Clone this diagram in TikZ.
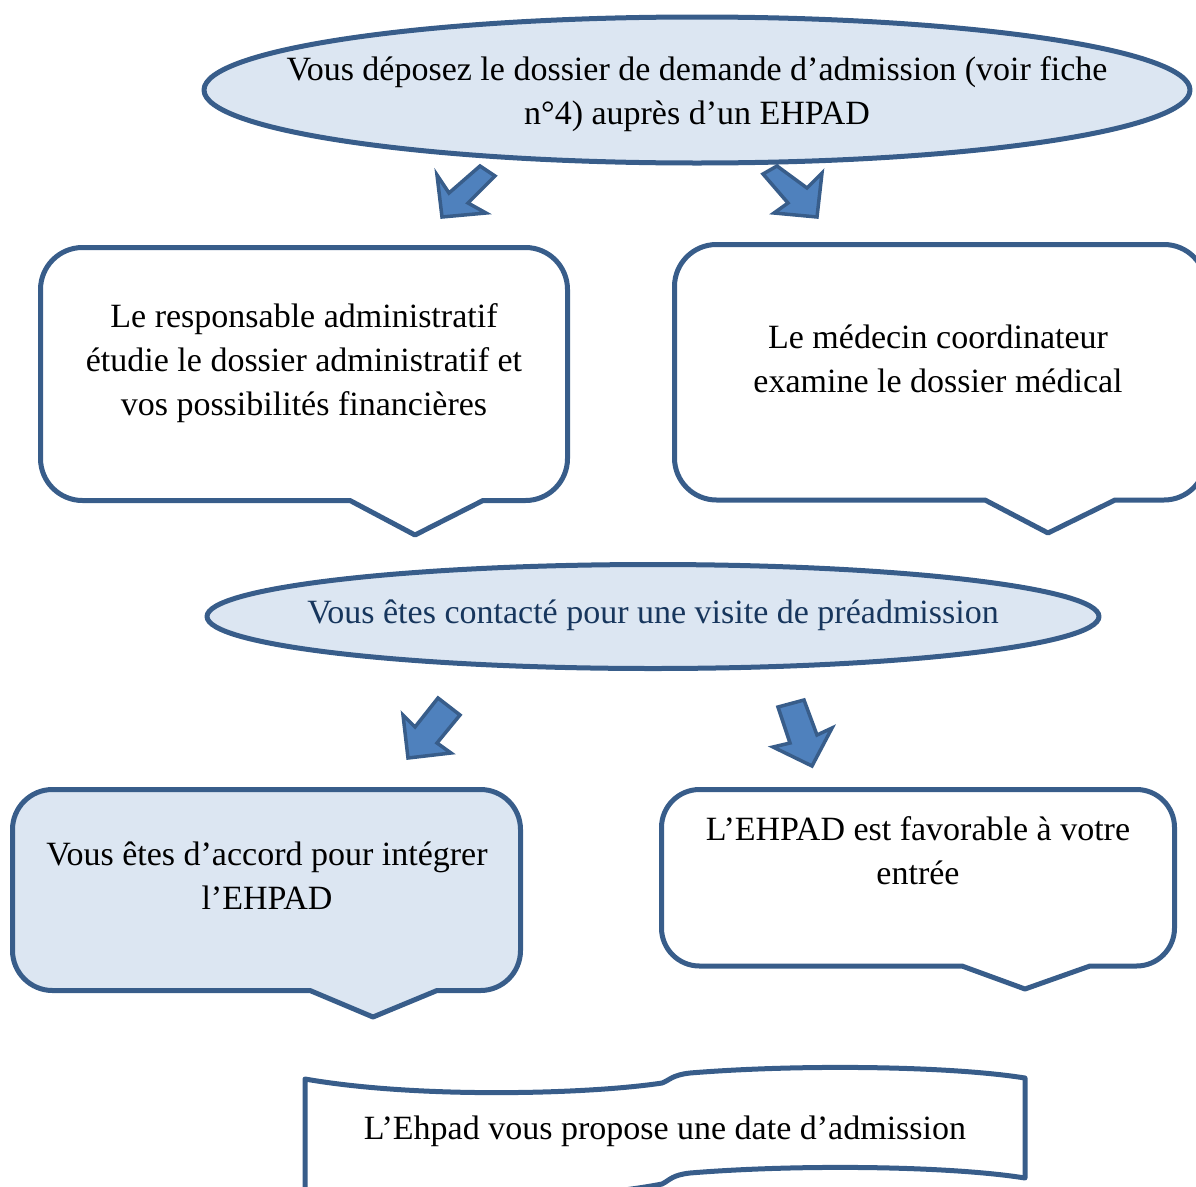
\documentclass[tikz,border=0pt]{standalone}
\usepackage{fontspec}
\setmainfont{Liberation Serif}
% #1 style, #2 x left, #3 x right, #4 y top, #5 y bottom, #6 radius, #7 pointer left x, #8 tip x, #9 tip y, pointer right x given by next arg
\newcommand\mycallout[9]{%
  \draw[#1] ({#2+#6},#4) -- ({#3-#6},#4) arc[start angle=270,end angle=360,radius=#6]
    -- (#3,{#5-#6}) arc[start angle=0,end angle=90,radius=#6]
    -- (\ptright,#5) -- (#8,#9) -- (#7,#5)
    -- ({#2+#6},#5) arc[start angle=90,end angle=180,radius=#6]
    -- (#2,{#4+#6}) arc[start angle=180,end angle=270,radius=#6] -- cycle;}
\begin{document}
\begin{tikzpicture}[x=1pt,y=-1pt,
  shapeline/.style={draw=strokeblue,line width=5pt,line join=round},
  bluefill/.style={shapeline,fill=lightblue},
  whitefill/.style={shapeline,fill=white},
  blockarrow/.style={draw=strokeblue,fill=arrowblue,line width=3.5pt,line join=miter},
  txt/.style={align=center,inner sep=0pt,font=\fontsize{34}{44}\selectfont,text=black}
]
\definecolor{strokeblue}{HTML}{385D8A}
\definecolor{lightblue}{HTML}{DCE6F2}
\definecolor{arrowblue}{HTML}{4F81BD}
\definecolor{navytext}{HTML}{17365D}
\useasboundingbox (0,0) rectangle (1196,1186);
\clip (0,0) rectangle (1196,1186);

% block arrows (drawn first, shapes cover their tails)
\draw[blockarrow] (480,166) -- (495,176) -- (468,203) -- (486,213) -- (442,217) -- (437,175) -- (449,193) -- cycle;
\draw[blockarrow] (777,166) -- (807,188) -- (822,173) -- (817,217) -- (774,213) -- (788,203) -- (763,174) -- cycle;
\draw[blockarrow] (438,698) -- (460,715) -- (437,743) -- (451,753) -- (408,758) -- (403,715) -- (415,727) -- cycle;
\draw[blockarrow] (778,707) -- (804,700) -- (817,735) -- (832,728) -- (812,766) -- (773,747) -- (790,743) -- cycle;

% top ellipse
\draw[bluefill] (697,90) ellipse [x radius=493, y radius=73];
\node[txt] (depot) at (697,94) {Vous déposez le dossier de demande d’admission (voir fiche\\n°4) auprès d’un EHPAD};

% left callout
\def\ptright{483}
\mycallout{whitefill}{40.5}{567.5}{247.5}{500.5}{42}{350}{415}{535}
\node[txt] (admin) at (304,363) {Le responsable administratif\\étudie le dossier administratif et\\vos possibilités financières};

% right callout
\def\ptright{1115}
\mycallout{whitefill}{674.5}{1206}{244.5}{500}{42}{985}{1048}{533}
\node[txt] (medecin) at (938,359) {Le médecin coordinateur\\examine le dossier médical};

% middle ellipse
\draw[bluefill] (653,616.5) ellipse [x radius=446, y radius=52];
\node[txt,text=navytext] (visite) at (653,615) {Vous êtes contacté pour une visite de préadmission};

% lower left callout
\def\ptright{437}
\mycallout{bluefill}{12.5}{520.5}{789.5}{990.5}{40}{310}{373}{1017}
\node[txt] (accord) at (267,876) {Vous êtes d’accord pour intégrer\\l’EHPAD};

% lower right callout
\def\ptright{1090}
\mycallout{whitefill}{661.5}{1174.5}{789.5}{966}{38}{962}{1025}{989}
\node[txt] (favorable) at (918,851) {L’EHPAD est favorable à votre\\entrée};

% bottom wave
\draw[whitefill] (305,1240) -- (305,1079)
  .. controls (420,1099) and (590,1094) .. (662,1083)
  .. controls (670,1080) and (672,1075) .. (690,1073)
  .. controls (800,1064) and (950,1066) .. (1025,1078)
  -- (1025,1178)
  .. controls (950,1166) and (800,1164) .. (690,1173)
  .. controls (672,1175) and (670,1180) .. (662,1184)
  .. controls (590,1198) and (420,1210) .. (305,1200) -- cycle;
\node[txt] (date) at (665,1131) {L’Ehpad vous propose une date d’admission};
\end{tikzpicture}
\end{document}
